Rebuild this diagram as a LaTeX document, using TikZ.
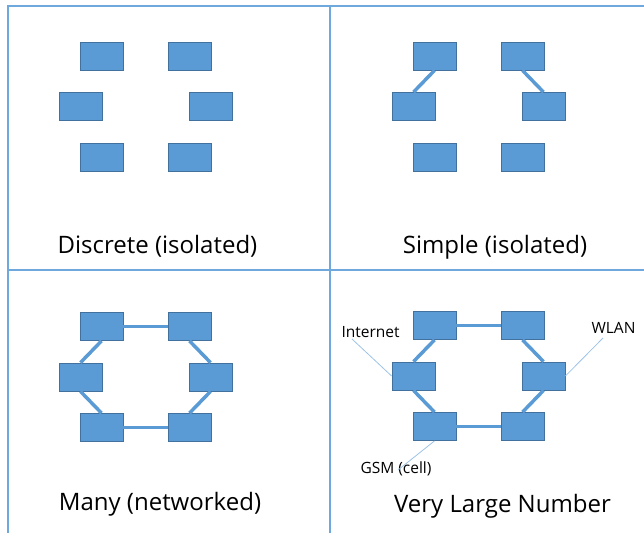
\documentclass[tikz,border=0pt]{standalone}
\usepackage{fontspec}
\setmainfont{Open Sans}
\usetikzlibrary{positioning}
\definecolor{unitFill}{HTML}{5B9BD5}
\definecolor{unitEdge}{HTML}{41719C}
\definecolor{gridBlue}{HTML}{6FA8DC}
\definecolor{leadBlue}{HTML}{9DC3E6}
\tikzset{
    unitBox/.style={rectangle, draw=unitEdge, fill=unitFill, line width=0.8pt, minimum width=43pt, minimum height=28pt, inner sep=0pt},
    netLink/.style={draw=unitFill, line width=3.5pt},
    leadLine/.style={draw=leadBlue, line width=0.8pt},
    panelLine/.style={draw=gridBlue, line width=1.3pt},
    caption/.style={font=\fontsize{24}{28}\selectfont, anchor=base},
    tagText/.style={font=\fontsize{15.5}{18}\selectfont, anchor=base west},
}
% six units of one panel, #1 = prefix, (#2,#3) = offset
\newcommand{\placeUnits}[3]{
    \node[unitBox] (#1tl) at (101.5+#2, 56+#3) {};
    \node[unitBox] (#1tr) at (189.5+#2, 56+#3) {};
    \node[unitBox] (#1ml) at (80.5+#2, 106.5+#3) {};
    \node[unitBox] (#1mr) at (210.5+#2, 106.5+#3) {};
    \node[unitBox] (#1bl) at (101.5+#2, 157+#3) {};
    \node[unitBox] (#1br) at (189.5+#2, 157+#3) {};
}
% closed ring through the six units
\newcommand{\drawRing}[1]{
    \draw[netLink] (#1tl.east) -- (#1tr.west);
    \draw[netLink] (#1tr.south) -- (#1mr.north);
    \draw[netLink] (#1mr.south) -- (#1br.north);
    \draw[netLink] (#1br.west) -- (#1bl.east);
    \draw[netLink] (#1bl.north) -- (#1ml.south);
    \draw[netLink] (#1ml.north) -- (#1tl.south);
}

\begin{document}
\begin{tikzpicture}[x=1pt, y=-1pt]

        \useasboundingbox (0, 0) rectangle (644, 533);

        % panel frame
        \coordinate (gTL) at (8, 6);
        \coordinate (gTR) at (644, 6);
        \coordinate (gBL) at (8, 533);
        \coordinate (gMT) at (330, 6);
        \coordinate (gMB) at (330, 533);
        \coordinate (gML) at (8, 270);
        \coordinate (gMR) at (644, 270);
        \draw[panelLine] (gTR) -- (gTL) -- (gBL);
        \draw[panelLine] (gMT) -- (gMB);
        \draw[panelLine] (gML) -- (gMR);

        % discrete
        \placeUnits{a}{0}{0}
        \node[caption] (capA) at (157.5, 253) {Discrete (isolated)};

        % simple
        \placeUnits{b}{333}{0}
        \draw[netLink] (btl.south) -- (bml.north);
        \draw[netLink] (btr.south) -- (bmr.north);
        \node[caption] (capB) at (495, 253) {Simple (isolated)};

        % many
        \placeUnits{c}{0}{270.5}
        \drawRing{c}
        \node[caption] (capC) at (160, 510) {Many (networked)};

        % very large number
        \placeUnits{d}{333}{269.5}
        \drawRing{d}
        \node[caption] (capD) at (502.5, 512) {Very Large Number};

        \node[tagText] (tagNet) at (338, 337) {Internet};
        \node[tagText] (tagWlan) at (588, 333) {WLAN};
        \node[tagText] (tagGsm) at (357, 473) {GSM (cell)};
        \coordinate (netEnd) at (352, 339);
        \coordinate (wlanEnd) at (603, 338);
        \coordinate (gsmEnd) at (398, 470);
        \draw[leadLine] (netEnd) -- (dml.west);
        \draw[leadLine] (wlanEnd) -- (dmr.east);
        \draw[leadLine] (gsmEnd) -- (dbl.south);

    \end{tikzpicture}
\end{document}
